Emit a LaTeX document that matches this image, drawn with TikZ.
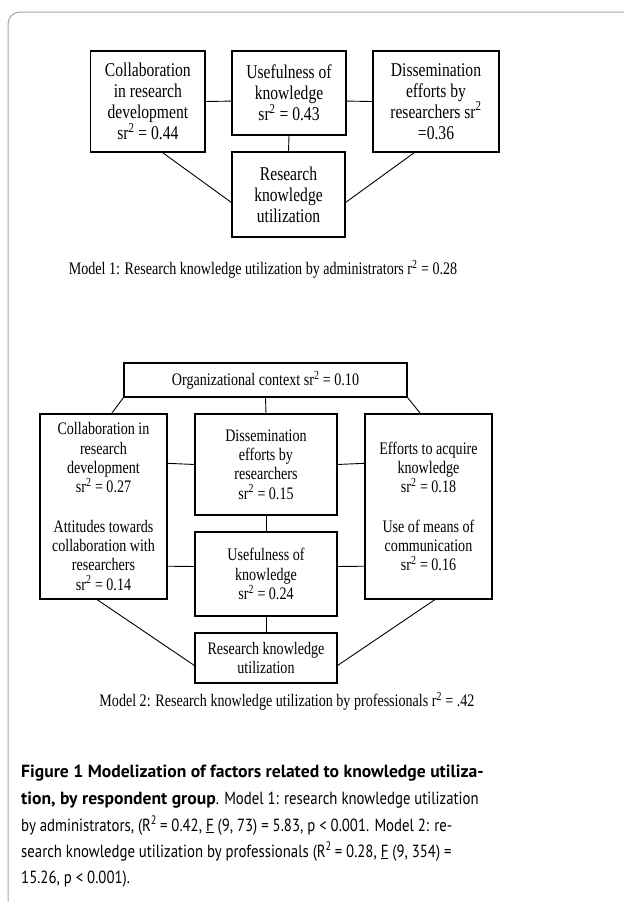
\documentclass[tikz,border=0pt]{standalone}
\usepackage{fontspec}
\setmainfont{Liberation Serif}
\newfontfamily\diagfont[FakeStretch=0.8]{Liberation Serif}
\newfontfamily\capfont[FakeStretch=0.84]{PT Sans}
\newfontfamily\capbold{PT Sans Bold}

\begin{document}
\begin{tikzpicture}
  [x=1pt,y=-1pt,
   box/.style={draw,line width=1.1pt,inner sep=0pt,align=center},
   bigtext/.style={font=\diagfont\fontsize{19.5}{21}\selectfont},
   smalltext/.style={font=\diagfont\fontsize{17.6}{19.3}\selectfont},
   link/.style={line width=0.9pt},
   capline/.style={anchor=base west,inner sep=0pt,font=\capfont\fontsize{17.6}{26}\selectfont}]
  \useasboundingbox (0,0) rectangle (624,902);
  \draw[black!35,line width=1pt] (8,902) -- (8,24) arc (180:270:12) -- (624,12);

  % model 1
  \node[box,bigtext,minimum width=114.3pt,minimum height=101pt] (collab1) at (147.85,101.5)
    {Collaboration\\in research\\development\\sr\textsuperscript{2} = 0.44};
  \node[box,bigtext,minimum width=114pt,minimum height=84pt] (useful1) at (289,93)
    {Usefulness of\\knowledge\\sr\textsuperscript{2} = 0.43};
  \node[box,bigtext,minimum width=126pt,minimum height=101pt] (dissem1) at (436,101.5)
    {Dissemination\\efforts by\\researchers sr\textsuperscript{2}\\=0.36};
  \node[box,bigtext,minimum width=113pt,minimum height=85pt] (rku1) at (288.5,194.5)
    {Research\\knowledge\\utilization};

  \foreach \from/\to in {collab1.east/useful1.188,useful1.-8/dissem1.west,
      useful1.south/rku1.north,collab1.-74/rku1.188,dissem1.-113/rku1.-8}
    \draw[link] (\from) -- (\to);

  \node[smalltext] (cap1) at (263,269)
    {Model 1: Research knowledge utilization by administrators r\textsuperscript{2} = 0.28};

  % model 2
  \node[box,smalltext,minimum width=283pt,minimum height=34pt] (org) at (265.5,380)
    {Organizational context sr\textsuperscript{2} = 0.10};
  \node[box,smalltext,minimum width=127pt,minimum height=185pt] (collab2) at (103.5,506.5)
    {Collaboration in\\research\\development\\sr\textsuperscript{2} = 0.27\\[20pt]
     Attitudes towards\\collaboration with\\researchers\\sr\textsuperscript{2} = 0.14};
  \node[box,smalltext,minimum width=142pt,minimum height=101pt] (dissem2) at (266,464.5)
    {Dissemination\\efforts by\\researchers\\sr\textsuperscript{2} = 0.15};
  \node[box,smalltext,minimum width=142pt,minimum height=84pt] (useful2) at (266,574)
    {Usefulness of\\knowledge\\sr\textsuperscript{2} = 0.24};
  \node[box,smalltext,minimum width=127pt,minimum height=185pt] (efforts) at (428.5,506.5)
    {Efforts to acquire\\knowledge\\sr\textsuperscript{2} = 0.18\\[20pt]
     Use of means of\\communication\\sr\textsuperscript{2} = 0.16};
  \node[box,smalltext,minimum width=142pt,minimum height=50pt] (rku2) at (266,658)
    {Research knowledge\\utilization};

  \foreach \from/\to in {org.south/dissem2.north,org.south west/collab2.85,org.south east/efforts.95,
      collab2.34/dissem2.west,dissem2.east/efforts.146,collab2.-43/useful2.174,useful2.6/efforts.223,
      dissem2.south/useful2.north,useful2.south/rku2.north,collab2.-94/rku2.186,efforts.-86/rku2.-6}
    \draw[link] (\from) -- (\to);

  \node[smalltext] (cap2) at (287,701)
    {Model 2: Research knowledge utilization by professionals r\textsuperscript{2} = .42};

  % figure caption
  \node[capline] (fig1) at (21,777)
    {\capbold Figure 1 Modelization of factors related to knowledge utiliza-};
  \node[capline] (fig2) at (21,804)
    {{\capbold tion, by respondent group}. Model 1: research knowledge utilization};
  \node[capline] (fig3) at (21,831)
    {by administrators, (R\textsuperscript{2}\,= 0.42, \underline{F} (9, 73) = 5.83, p < 0.001. Model 2: re-};
  \node[capline] (fig4) at (21,857)
    {search knowledge utilization by professionals (R\textsuperscript{2}\,= 0.28, \underline{F} (9, 354) =};
  \node[capline] (fig5) at (21,883) {15.26, p < 0.001).};
\end{tikzpicture}
\end{document}
